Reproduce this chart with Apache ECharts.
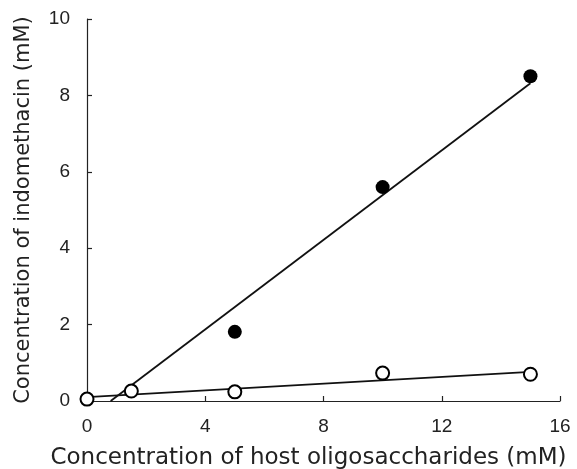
<!DOCTYPE html>
<html>
<head>
<meta charset="utf-8">
<script src="https://cdn.jsdelivr.net/npm/echarts@6/dist/echarts.min.js"></script>
<style>
  html, body { margin: 0; padding: 0; background: #fff; }
  #chart { width: 577px; height: 469px; }
</style>
</head>
<body>
<div id="chart"></div>
<script>
  // host oligosaccharide concentration (mM) vs indomethacin (mM)
  const filledX = [5, 10, 15];
  const filledY = [1.81, 5.6, 8.5];
  const openX = [0, 1.5, 5, 10, 15];
  const openY = [0.05, 0.26, 0.24, 0.73, 0.7];

  // fitted lines at their ends
  const filledFitX = [0.8, 15];
  const filledFitY = [0, 8.32];
  const openFitX = [0, 15];
  const openFitY = [0.1, 0.76];

  const xTicks = [0, 4, 8, 12, 16];
  const yTicks = [0, 2, 4, 6, 8, 10];

  const pairs = (xs, ys) => xs.map((x, i) => [x, ys[i]]);

  const axisColor = '#222';
  const tickFont = { fontFamily: 'Liberation Sans', fontSize: 19, color: '#222' };

  let myChart = echarts.init(document.getElementById('chart'), null, { renderer: 'canvas' });

  const option = {
    animation: false,
    backgroundColor: '#fff',
    grid: { left: 87, right: 17, top: 19, bottom: 68, outerBoundsMode: 'none', containLabel: false },
    xAxis: {
      type: 'value',
      min: xTicks[0],
      max: xTicks[xTicks.length - 1],
      interval: 4,
      name: 'Concentration of host oligosaccharides (mM)',
      nameLocation: 'middle',
      nameGap: 46,
      nameTextStyle: { fontFamily: 'DejaVu Sans', fontSize: 23, color: '#222', padding: [0, 30, 0, 0] },
      axisLine: { lineStyle: { color: axisColor, width: 1.2 } },
      axisTick: { inside: true, length: 5, lineStyle: { color: axisColor, width: 1.2 } },
      axisLabel: Object.assign({ margin: 16 }, tickFont),
      splitLine: { show: false }
    },
    yAxis: {
      type: 'value',
      min: yTicks[0],
      max: yTicks[yTicks.length - 1],
      interval: 2,
      name: 'Concentration of indomethacin (mM)',
      nameLocation: 'middle',
      nameGap: 53,
      nameTextStyle: { fontFamily: 'DejaVu Sans', fontSize: 21, color: '#222' },
      axisLine: { show: true, lineStyle: { color: axisColor, width: 1.2 } },
      axisTick: { show: true, inside: true, length: 5, lineStyle: { color: axisColor, width: 1.2 } },
      axisLabel: Object.assign({ margin: 17 }, tickFont),
      splitLine: { show: false }
    },
    series: [
      {
        type: 'line',
        data: pairs(filledFitX, filledFitY),
        symbol: 'none',
        lineStyle: { color: '#111', width: 1.8 },
        z: 2
      },
      {
        type: 'line',
        data: pairs(openFitX, openFitY),
        symbol: 'none',
        lineStyle: { color: '#111', width: 1.8 },
        z: 2
      },
      {
        type: 'scatter',
        data: pairs(filledX, filledY),
        symbol: 'circle',
        symbolSize: 14,
        itemStyle: { color: '#000', opacity: 1 },
        z: 3
      },
      {
        type: 'scatter',
        data: pairs(openX, openY),
        symbol: 'circle',
        symbolSize: 13,
        itemStyle: { color: '#fff', borderColor: '#000', borderWidth: 2, opacity: 1 },
        z: 3
      }
    ]
  };

  myChart.setOption(option);
</script>
</body>
</html>
